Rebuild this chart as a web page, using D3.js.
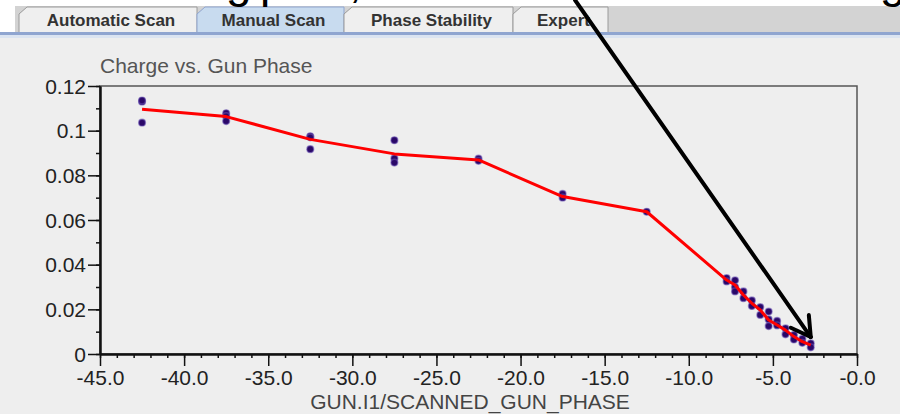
<!DOCTYPE html>
<html>
<head>
<meta charset="utf-8">
<script src="https://cdn.jsdelivr.net/npm/d3@7"></script>
<style>
  html, body { margin: 0; padding: 0; background: #ffffff; }
  svg { display: block; font-family: "Liberation Sans", Arial, sans-serif; }
</style>
</head>
<body>
<div id="chart"></div>
<script>
const tabLabels = ['Automatic Scan', 'Manual Scan', 'Phase Stability', 'Expert'];
const selectedTab = 'Manual Scan';

// red line (mean charge per phase step)
const linePhase = [-42.5, -37.5, -32.5, -27.5, -22.5, -17.5, -12.5,
  -7.75, -7.25, -6.75, -6.25, -5.75, -5.25, -4.75, -4.25, -3.75, -3.25, -2.75];
const lineCharge = [0.1096, 0.1063, 0.0961, 0.0896, 0.0869, 0.0705, 0.0637,
  0.0331, 0.0309, 0.0264, 0.0227, 0.0197, 0.0152, 0.0130, 0.0107, 0.0078, 0.0055, 0.0040];

// individual samples
const samplePhase = [-42.5, -42.5, -42.5, -37.5, -37.5, -37.5, -32.5, -32.5, -32.5,
  -27.5, -27.5, -27.5, -22.5, -22.5, -17.5, -17.5, -12.5,
  -7.75, -7.75, -7.25, -7.25, -7.25, -6.75, -6.75, -6.25, -6.25, -5.75, -5.75,
  -5.25, -5.25, -5.25, -4.75, -4.75, -4.25, -4.25, -3.75, -3.75, -3.25, -3.25, -2.75, -2.75];
const sampleCharge = [0.1130, 0.1135, 0.1036, 0.1078, 0.1065, 0.1043, 0.0975, 0.0970, 0.0917,
  0.0957, 0.0876, 0.0857, 0.0875, 0.0865, 0.0717, 0.0700, 0.0637,
  0.0340, 0.0325, 0.0330, 0.0300, 0.0280, 0.0280, 0.0250, 0.0240, 0.0215, 0.0210, 0.0175,
  0.0190, 0.0155, 0.0125, 0.0148, 0.0128, 0.0115, 0.0088, 0.0085, 0.0065, 0.0068, 0.0050, 0.0048, 0.0030];

const xTickValues = [-45, -40, -35, -30, -25, -20, -15, -10, -5, 0];
const yTickValues = [0, 0.02, 0.04, 0.06, 0.08, 0.1, 0.12];

const width = 900;
const height = 414;
const plot = {left: 100, right: 857, top: 86, bottom: 354};
const labelFont = '21px';

const svg = d3.select('#chart').append('svg')
  .attr('width', width)
  .attr('height', height);

// background pieces
svg.append('rect').attr('x', 0).attr('y', 0).attr('width', width).attr('height', height).attr('fill', '#ffffff');
svg.append('rect').attr('x', 0).attr('y', 37).attr('width', width).attr('height', height - 37).attr('fill', '#eeeeee');
svg.append('rect').attr('x', 15).attr('y', 6).attr('width', width - 15).attr('height', 26).attr('fill', '#d3d3d3');
svg.append('rect').attr('x', 0).attr('y', 32).attr('width', width).attr('height', 3).attr('fill', '#8fa5d0');
svg.append('rect').attr('x', 0).attr('y', 35).attr('width', width).attr('height', 3).attr('fill', '#dbe4f1');

// tabs
const tabEdges = [19, 197, 344, 513, 608];
const tabs = svg.append('g').attr('class', 'tabs');
tabLabels.forEach((label, i) => {
  const x0 = tabEdges[i];
  const x1 = tabEdges[i + 1];
  const sel = label === selectedTab;
  tabs.append('path')
    .attr('d', `M${x0},32 L${x0},14 L${x0 + 8},7 L${x1},7 L${x1},32`)
    .attr('fill', sel ? '#c8dbef' : '#efefef')
    .attr('stroke', sel ? '#8fa5d0' : '#9a9a9a')
    .attr('stroke-width', 1);
  tabs.append('text')
    .attr('x', (x0 + x1) / 2 + 3)
    .attr('y', 26)
    .attr('text-anchor', 'middle')
    .attr('font-size', '17px')
    .attr('font-weight', 'bold')
    .attr('fill', '#333333')
    .text(label);
});

// slide text above the screenshot, only descenders visible
const topGlyphs = [{t: 'g', x: 226}, {t: 'p', x: 260}, {t: ',', x: 349}, {t: 'g', x: 880}];
topGlyphs.forEach(g => {
  svg.append('text')
    .attr('x', g.x).attr('y', -3)
    .attr('font-size', '46px')
    .attr('fill', '#000')
    .text(g.t);
});

const x = d3.scaleLinear().domain([-45, 0]).range([plot.left, plot.right]);
const y = d3.scaleLinear().domain([0, 0.12]).range([plot.bottom, plot.top]);

// frame
svg.append('rect')
  .attr('x', plot.left).attr('y', plot.top)
  .attr('width', plot.right - plot.left).attr('height', plot.bottom - plot.top)
  .attr('fill', 'none').attr('stroke', '#555').attr('stroke-width', 1.5);

// title
svg.append('text')
  .attr('x', plot.left).attr('y', 73)
  .attr('font-size', labelFont)
  .attr('fill', '#555')
  .text('Charge vs. Gun Phase');

// minor ticks
const xMinor = svg.append('g')
  .attr('transform', `translate(0,${plot.bottom})`)
  .call(d3.axisBottom(x).tickValues(d3.range(-45, 1, 1)).tickSize(4).tickSizeOuter(0).tickFormat(''));
const yMinor = svg.append('g')
  .attr('transform', `translate(${plot.left},0)`)
  .call(d3.axisLeft(y).tickValues(d3.range(0, 0.1201, 0.01)).tickSize(4).tickSizeOuter(0).tickFormat(''));

// major axes
const xAxisEl = svg.append('g')
  .attr('transform', `translate(0,${plot.bottom})`)
  .call(d3.axisBottom(x).tickValues(xTickValues).tickSize(12).tickSizeOuter(0).tickPadding(4)
    .tickFormat(d => d === 0 ? '-0.0' : d.toFixed(1)));
const yAxisEl = svg.append('g')
  .attr('transform', `translate(${plot.left},0)`)
  .call(d3.axisLeft(y).tickValues(yTickValues).tickSize(12).tickSizeOuter(0).tickPadding(2)
    .tickFormat(d => d === 0 ? '0' : String(+d.toFixed(2))));

[xMinor, yMinor, xAxisEl, yAxisEl].forEach(a => {
  a.selectAll('line').attr('stroke', '#111').attr('stroke-width', 1.5);
  a.select('.domain').attr('stroke', '#111').attr('stroke-width', 2);
  a.selectAll('text').attr('font-size', labelFont).attr('fill', '#222').attr('font-family', '"Liberation Sans", Arial, sans-serif');
});
yAxisEl.selectAll('text').attr('dy', '0.34em');

// x axis label
svg.append('text')
  .attr('x', 470).attr('y', 409)
  .attr('text-anchor', 'middle')
  .attr('font-size', labelFont)
  .attr('fill', '#444')
  .text('GUN.I1/SCANNED_GUN_PHASE');

// samples
svg.append('g').selectAll('circle')
  .data(samplePhase.map((p, i) => ({p, c: sampleCharge[i]})))
  .join('circle')
  .attr('cx', d => x(d.p))
  .attr('cy', d => y(d.c))
  .attr('r', 3.4)
  .attr('fill', '#2a0868')
  .attr('stroke', '#6a52b4')
  .attr('stroke-opacity', 0.55)
  .attr('stroke-width', 1.4);

// mean line
const line = d3.line().x(d => x(d.p)).y(d => y(d.c));
svg.append('path')
  .datum(linePhase.map((p, i) => ({p, c: lineCharge[i]})))
  .attr('d', line)
  .attr('fill', 'none')
  .attr('stroke', '#ff0000')
  .attr('stroke-width', 3)
  .attr('stroke-linejoin', 'round');

// annotation arrow pointing at the last scan point
const tipX = x(-2.75);
const tipY = y(0.0076);
const startX = 575, startY = 0;
const ang = Math.atan2(startY - tipY, startX - tipX);
const headLen = 22;
const arrow = svg.append('g').attr('stroke', '#000').attr('stroke-width', 4).attr('stroke-linecap', 'round').attr('fill', 'none');
arrow.append('line').attr('x1', startX).attr('y1', startY).attr('x2', tipX).attr('y2', tipY);
[Math.PI / 6, -Math.PI / 6].forEach(da => {
  arrow.append('line')
    .attr('x1', tipX).attr('y1', tipY)
    .attr('x2', tipX + headLen * Math.cos(ang + da))
    .attr('y2', tipY + headLen * Math.sin(ang + da));
});
</script>
</body>
</html>
